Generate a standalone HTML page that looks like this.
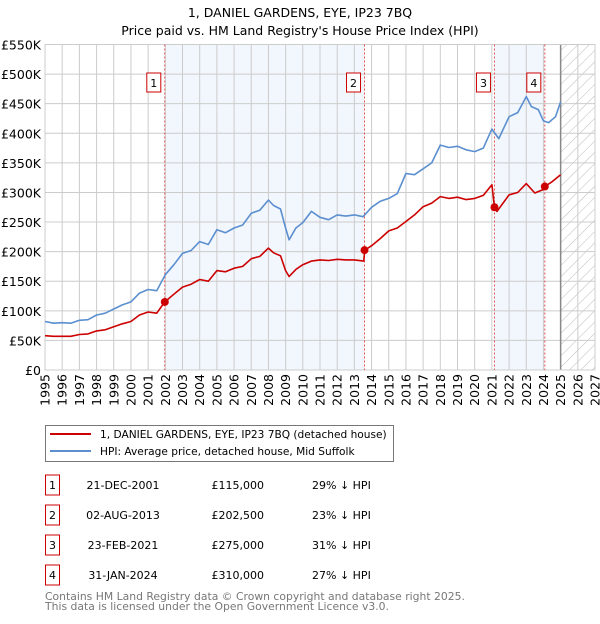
<!DOCTYPE html>
<html><head><meta charset="utf-8"><style>
body{margin:0;background:#fff;font-family:"DejaVu Sans","Liberation Sans",sans-serif;}
svg text{font-family:"DejaVu Sans","Liberation Sans",sans-serif;}
</style></head><body>
<svg id="c" width="600" height="620" xmlns="http://www.w3.org/2000/svg">
<defs><pattern id="hatch" width="8" height="8" patternUnits="userSpaceOnUse" patternTransform="rotate(45)"><line x1="0" y1="0" x2="0" y2="8" stroke="#bbb" stroke-width="1"/></pattern></defs>
<text x="300" y="17" text-anchor="middle" font-size="12.5">1, DANIEL GARDENS, EYE, IP23 7BQ</text>
<text x="300" y="35" text-anchor="middle" font-size="12.5">Price paid vs. HM Land Registry's House Price Index (HPI)</text>
<g id="plot"></g>
<g>
<rect x="45.5" y="425.5" width="348" height="36" fill="#fff" stroke="#777"/>
<line x1="50" y1="434" x2="91" y2="434" stroke="#cc0000" stroke-width="2"/>
<text x="100" y="438" font-size="10.6">1, DANIEL GARDENS, EYE, IP23 7BQ (detached house)</text>
<line x1="50" y1="451" x2="91" y2="451" stroke="#5b8fd0" stroke-width="2"/>
<text x="100" y="455" font-size="10.6">HPI: Average price, detached house, Mid Suffolk</text>
</g>
<g id="table" font-size="11"></g>
<text x="45" y="600" font-size="10.8" fill="#777">Contains HM Land Registry data © Crown copyright and database right 2025.</text>
<text x="45" y="610" font-size="10.8" fill="#777">This data is licensed under the Open Government Licence v3.0.</text>
</svg>
<script>
const hpiYears=[1995,1995.5,1996,1996.5,1997,1997.5,1998,1998.5,1999,1999.5,2000,2000.5,2001,2001.5,2002,2002.5,2003,2003.5,2004,2004.5,2005,2005.5,2006,2006.5,2007,2007.5,2008,2008.3,2008.7,2009,2009.2,2009.6,2010,2010.5,2011,2011.5,2012,2012.5,2013,2013.5,2014,2014.5,2015,2015.5,2016,2016.5,2017,2017.5,2018,2018.5,2019,2019.5,2020,2020.5,2021,2021.4,2022,2022.5,2023,2023.3,2023.7,2024,2024.3,2024.7,2025];
const hpiValues=[82,79,80,79,84,85,93,96,103,110,115,130,136,134,161,178,197,202,217,212,237,232,240,245,265,270,287,278,272,240,220,240,249,268,258,254,262,260,262,259,275,285,290,298,332,330,340,350,380,376,378,372,369,375,407,391,428,435,462,445,440,421,418,428,453];
const ppYears=[1995,1995.5,1996,1996.5,1997,1997.5,1998,1998.5,1999,1999.5,2000,2000.5,2001,2001.5,2001.97,2002.5,2003,2003.5,2004,2004.5,2005,2005.5,2006,2006.5,2007,2007.5,2008,2008.3,2008.7,2009,2009.2,2009.6,2010,2010.5,2011,2011.5,2012,2012.5,2013,2013.55,2013.6,2014,2014.5,2015,2015.5,2016,2016.5,2017,2017.5,2018,2018.5,2019,2019.5,2020,2020.5,2021,2021.15,2021.3,2022,2022.5,2023,2023.5,2024,2024.08,2024.5,2025];
const ppValues=[58,57,57,57,60,61,66,68,73,78,82,93,98,96,115,128,140,145,153,150,168,166,172,175,188,192,206,198,193,168,158,170,178,184,186,185,187,186,186,184,202.5,210,222,235,240,251,262,276,282,293,290,292,288,290,295,313,275,268,296,300,315,299,305,310,318,330];
const sales=[{n:"1",t:2001.97,v:115,d:"21-DEC-2001",p:"£115,000",h:"29% ↓ HPI"},{n:"2",t:2013.59,v:202.5,d:"02-AUG-2013",p:"£202,500",h:"23% ↓ HPI"},{n:"3",t:2021.15,v:275,d:"23-FEB-2021",p:"£275,000",h:"31% ↓ HPI"},{n:"4",t:2024.08,v:310,d:"31-JAN-2024",p:"£310,000",h:"27% ↓ HPI"}];
const yTicks=[0,50,100,150,200,250,300,350,400,450,500,550];
const yTickLabels=["£0","£50K","£100K","£150K","£200K","£250K","£300K","£350K","£400K","£450K","£500K","£550K"];
const xTicks=[1995,1996,1997,1998,1999,2000,2001,2002,2003,2004,2005,2006,2007,2008,2009,2010,2011,2012,2013,2014,2015,2016,2017,2018,2019,2020,2021,2022,2023,2024,2025,2026,2027];
const NS="http://www.w3.org/2000/svg";
const L=45,R=595,T=44.5,B=370,X0=1995,X1=2027,YM=550;
const xs=t=>L+(t-X0)/(X1-X0)*(R-L);
const ys=v=>B-v/YM*(B-T);
const g=document.getElementById('plot');
function mk(tag,attrs,parent){const e=document.createElementNS(NS,tag);for(const k in attrs)e.setAttribute(k,attrs[k]);(parent||g).appendChild(e);return e;}
[[0,1],[2,3]].forEach(([a,b])=>{const r=mk('rect',{x:xs(sales[a].t),y:T,width:xs(sales[b].t)-xs(sales[a].t),height:B-T,fill:'#eef3fc',opacity:0.75});

});
const hz=mk('rect',{x:xs(2025),y:T,width:R-xs(2025),height:B-T,fill:'url(#hatch)'});


yTicks.forEach((v,i)=>{const l=mk('line',{x1:L,x2:R,y1:ys(v),y2:ys(v),stroke:'#ccc'});


const t=mk('text',{x:L-4,y:ys(v)+5,'text-anchor':'end','font-size':'12.5'});t.textContent=yTickLabels[i];

});
xTicks.forEach(y=>{const l=mk('line',{x1:xs(y),x2:xs(y),y1:T,y2:B,stroke:'#ccc'});


const t=mk('text',{x:0,y:0,'text-anchor':'end','font-size':'12.5',transform:`translate(${xs(y)+4.5},374) rotate(-90)`});t.textContent=y;

});
const nl=mk('line',{x1:xs(2025),x2:xs(2025),y1:T,y2:B,stroke:'#888','stroke-width':1.5});


const fr=mk('rect',{x:L,y:T,width:R-L,height:B-T,fill:'none',stroke:'#ccc'});


sales.forEach(s=>{const l=mk('line',{x1:xs(s.t),x2:xs(s.t),y1:T,y2:B,stroke:'#e05050','stroke-dasharray':'2,2','stroke-width':1});


const bx=mk('rect',{x:xs(s.t)-18,y:73,width:14,height:19,fill:'#fff',stroke:'#cc0000'});


const t=mk('text',{x:xs(s.t)-11,y:87,'text-anchor':'middle','font-size':'11'});t.textContent=s.n;

});
function path(xa,va,col,name){const d=xa.map((t,i)=>(i?'L':'M')+xs(t).toFixed(1)+','+ys(va[i]).toFixed(1)).join('');
const p=mk('path',{d:d,fill:'none',stroke:col,'stroke-width':1.6,'stroke-linejoin':'round'});

}
path(hpiYears,hpiValues,'#5b8fd0','hpi-line');
path(ppYears,ppValues,'#cc0000','price-paid-line');
sales.forEach(s=>{const c=mk('circle',{cx:xs(s.t),cy:ys(s.v),r:4,fill:'#cc0000'});

});
const tb=document.getElementById('table');
sales.forEach((s,i)=>{const y=483+i*30;
const r=mk('rect',{x:45.5,y:y-8,width:14,height:20,fill:'#fff',stroke:'#cc0000'},tb);


const n=mk('text',{x:52.5,y:y+6,'text-anchor':'middle'},tb);n.textContent=s.n;


const d=mk('text',{x:123,y:y+6,'text-anchor':'middle'},tb);d.textContent=s.d;


const p=mk('text',{x:264,y:y+6,'text-anchor':'end'},tb);p.textContent=s.p;


const h=mk('text',{x:312,y:y+6},tb);h.textContent=s.h;

});
</script>
</body></html>
